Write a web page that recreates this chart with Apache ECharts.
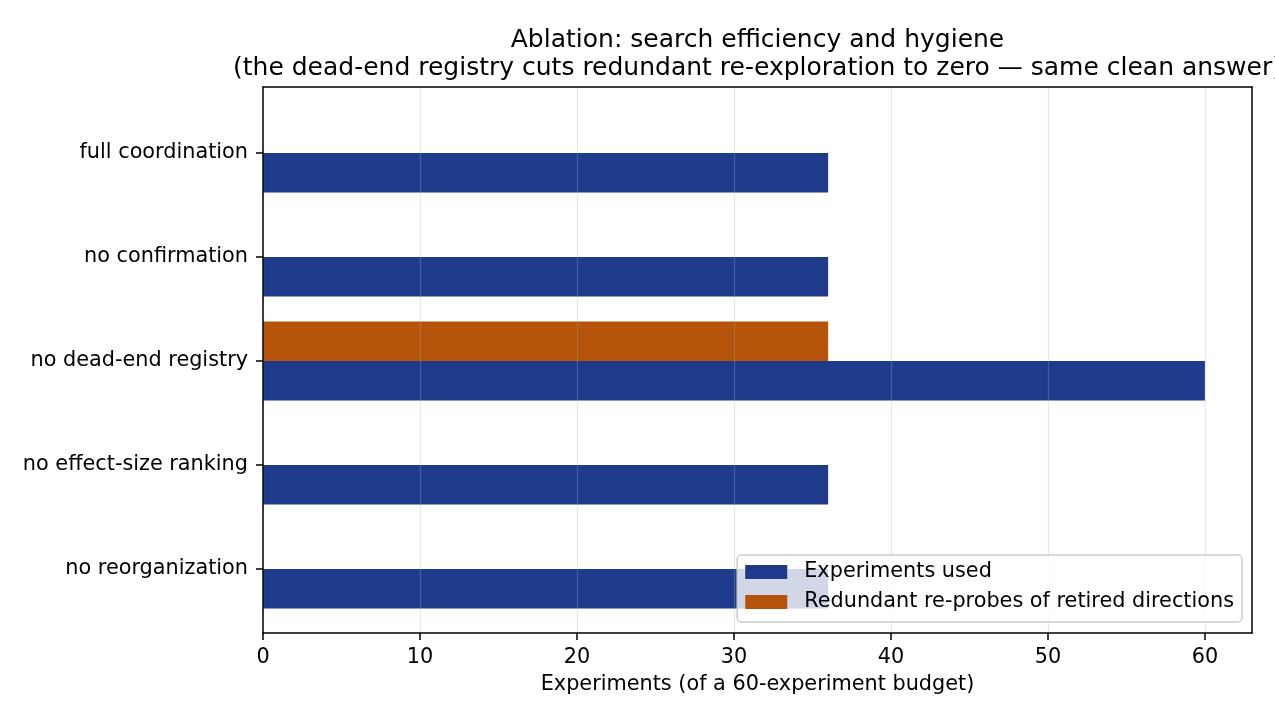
<!DOCTYPE html>
<html>
<head>
<meta charset="utf-8">
<script src="https://cdn.jsdelivr.net/npm/echarts@6/dist/echarts.min.js"></script>
<style>
  html, body { margin: 0; padding: 0; background: #ffffff; }
  #chart-container { width: 1275px; height: 720px; }
</style>
</head>
<body>
<div id="chart-container"></div>
<script>
var categories = ['full coordination', 'no confirmation', 'no dead-end registry', 'no effect-size ranking', 'no reorganization'];
var experimentsUsed = [36, 36, 60, 36, 36];
var redundantReprobes = [0, 0, 36, 0, 0];
var xTicks = [0, 10, 20, 30, 40, 50, 60];

var FONT = 'DejaVu Sans';
var dom = document.getElementById('chart-container');
var myChart = echarts.init(dom, null, { renderer: 'canvas' });

// frame lines (top/right spines need onZero off or they snap to the other axis' zero)
var spine = { show: true, onZero: false, lineStyle: { color: '#000000', width: 1.5 } };

var option = {
  animation: false,
  textStyle: { fontFamily: FONT },
  title: {
    text: 'Ablation: search efficiency and hygiene\n(the dead-end registry cuts redundant re-exploration to zero \u2014 same clean answer)',
    left: 757.5,
    top: 26,
    padding: 0,
    textAlign: 'center',
    textStyle: { fontFamily: FONT, fontSize: 25, fontWeight: 'normal', color: '#000000', lineHeight: 28 }
  },
  legend: {
    orient: 'vertical',
    right: 33,
    top: 555,
    data: ['Experiments used', 'Redundant re-probes of retired directions'],
    icon: 'rect',
    itemWidth: 42,
    itemHeight: 14,
    itemGap: 8,
    padding: [6, 8, 9, 8],
    backgroundColor: 'rgba(255,255,255,0.8)',
    borderColor: '#cccccc',
    borderWidth: 1.5,
    borderRadius: 4,
    textStyle: { fontFamily: FONT, fontSize: 20.8, color: '#000000', lineHeight: 22, padding: [0, 0, 0, 12] }
  },
  grid: [
    { left: 263, right: 23, top: 87, bottom: 87 },
    { left: 263, right: 23, top: 101, height: 520 }
  ],
  xAxis: [
    {
      gridIndex: 0, type: 'value', min: 0, max: 63, interval: 10, z: 3,
      axisLine: spine,
      axisTick: { show: true, length: 7, lineStyle: { color: '#000000', width: 1.5 }, customValues: xTicks },
      axisLabel: { fontSize: 20.8, color: '#000000', margin: 14, customValues: xTicks },
      splitLine: { show: true, lineStyle: { color: 'rgba(176,176,176,0.3)', width: 1.2 } },
      name: 'Experiments (of a 60-experiment budget)',
      nameLocation: 'middle',
      nameGap: 41,
      nameTextStyle: { fontSize: 20.8, color: '#000000' }
    },
    {
      gridIndex: 0, type: 'value', min: 0, max: 63, position: 'top', z: 3,
      axisLine: spine, axisTick: { show: false }, axisLabel: { show: false }, splitLine: { show: false }
    },
    { gridIndex: 1, type: 'value', min: 0, max: 63, show: false }
  ],
  yAxis: [
    {
      gridIndex: 0, type: 'value', min: 0, max: 1, position: 'left', z: 3,
      axisLine: spine, axisTick: { show: false }, axisLabel: { show: false }, splitLine: { show: false }
    },
    {
      gridIndex: 0, type: 'value', min: 0, max: 1, position: 'right', z: 3,
      axisLine: spine, axisTick: { show: false }, axisLabel: { show: false }, splitLine: { show: false }
    },
    {
      gridIndex: 1, type: 'category', inverse: true, data: categories,
      axisLine: { show: false },
      axisTick: { show: true, alignWithLabel: true, length: 7, lineStyle: { color: '#000000', width: 1.5 } },
      axisLabel: { fontSize: 20.8, color: '#000000', margin: 15, padding: [4, 0, 0, 0] },
      splitLine: { show: false }
    }
  ],
  series: [
    {
      name: 'Redundant re-probes of retired directions',
      type: 'bar',
      xAxisIndex: 2,
      yAxisIndex: 2,
      barWidth: 39.5,
      barGap: '0%',
      itemStyle: { color: '#b45309' },
      data: redundantReprobes
    },
    {
      name: 'Experiments used',
      type: 'bar',
      xAxisIndex: 2,
      yAxisIndex: 2,
      barWidth: 39.5,
      barGap: '0%',
      itemStyle: { color: '#1e3a8a' },
      data: experimentsUsed
    }
  ]
};

myChart.setOption(option);
window.addEventListener('resize', myChart.resize);
</script>
</body>
</html>
